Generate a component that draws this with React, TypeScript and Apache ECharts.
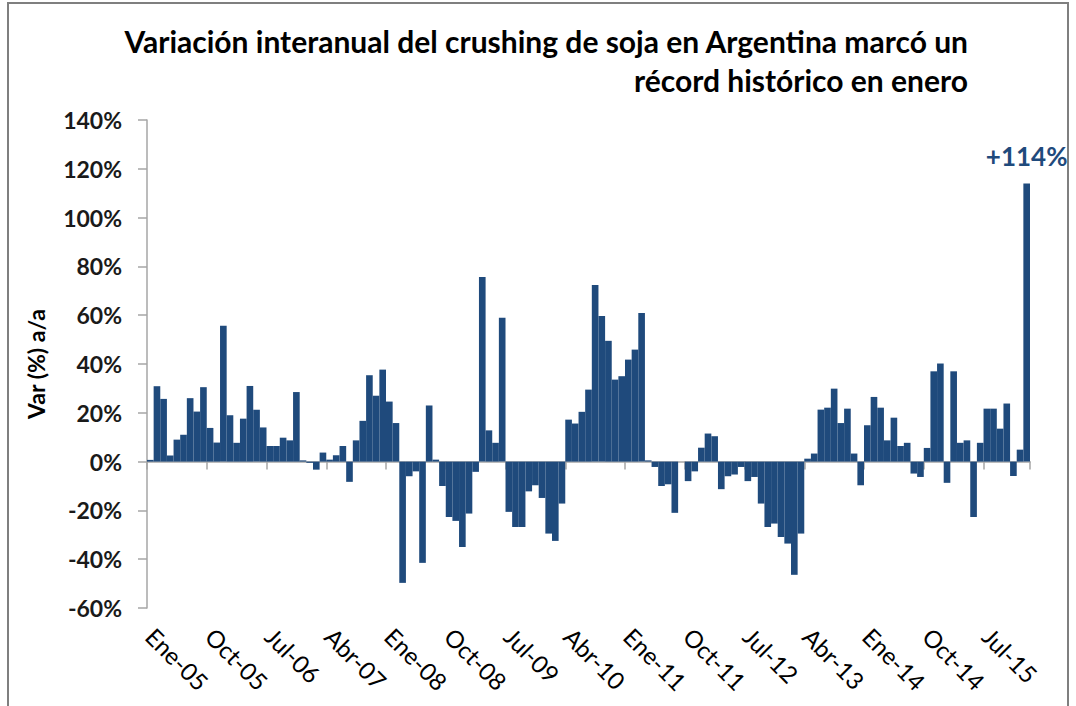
import React, { useEffect, useRef } from "react";
import * as echarts from "echarts";

const MONTHS = ["Ene", "Feb", "Mar", "Abr", "May", "Jun", "Jul", "Ago", "Sep", "Oct", "Nov", "Dic"];
const YEARS = ["05", "06", "07", "08", "09", "10", "11", "12", "13", "14", "15", "16"];

// Year-on-year variation of soybean crushing in Argentina (%), Ene-05 .. Ene-16
const VALUES_2005 = [0.7, 30.9, 25.7, 2.5, 9, 11, 26, 20.5, 30.5, 13.8, 7.8, 55.7];
const VALUES_2006 = [19, 7.7, 17.6, 31, 21.3, 14, 6.4, 6.4, 9.8, 8.7, 28.5, 0.5];
const VALUES_2007 = [-0.5, -3.3, 3.7, 0.8, 2.6, 6.4, -8.3, 8.7, 16.7, 35.4, 27, 37.7];
const VALUES_2008 = [24.6, 15.8, -49.7, -6, -4, -41.5, 23, 0.8, -10, -22.7, -24.3, -35];
const VALUES_2009 = [-21.3, -4.2, 75.7, 12.8, 7.7, 59, -20.6, -26.8, -26.8, -12.2, -9.7, -14.9];
const VALUES_2010 = [-29.5, -32.5, -17.2, 17.2, 15.6, 20.4, 29.5, 72.4, 59.7, 49.5, 33.6, 35];
const VALUES_2011 = [41.8, 45.9, 60.9, 0.5, -2.2, -10, -9.3, -21, 0, -8, -4, 5.7];
const VALUES_2012 = [11.5, 10.4, -11.3, -6, -5.3, -2.2, -8, -6.3, -17.2, -26.8, -25.4, -30.9];
const VALUES_2013 = [-33.6, -46.4, -29.5, 1.2, 3.3, 21.3, 22.1, 29.9, 15.8, 21.7, 3.3, -9.7];
const VALUES_2014 = [14.9, 26.5, 22.1, 8.7, 18, 6.4, 7.7, -4.9, -6.3, 5.6, 37, 40.2];
const VALUES_2015 = [-8.7, 37, 7.7, 8.7, -22.7, 7.7, 21.7, 21.7, 13.5, 23.8, -5.9, 4.9];
const VALUES_2016 = [114];

const Y_MIN = -60;
const Y_MAX = 140;
const Y_STEP = 20;

const TITLE_LINE_1 = "Variación interanual del crushing de soja en Argentina marcó un";
const TITLE_LINE_2 = "récord histórico en enero";
const Y_TITLE = "Var (%) a/a";
const ANNOTATION = "+114%";

const BAR_COLOR = "#1F4A7C";

export default function App() {
  const ref = useRef<HTMLDivElement>(null);

  useEffect(() => {
    if (!ref.current) return;
    const chart = echarts.init(ref.current, undefined, { renderer: "svg" });

    const values = [
      ...VALUES_2005, ...VALUES_2006, ...VALUES_2007, ...VALUES_2008,
      ...VALUES_2009, ...VALUES_2010, ...VALUES_2011, ...VALUES_2012,
      ...VALUES_2013, ...VALUES_2014, ...VALUES_2015, ...VALUES_2016,
    ];
    const categories: string[] = [];
    for (const y of YEARS) for (const m of MONTHS) categories.push(`${m}-${y}`);
    categories.length = values.length;

    const lastIdx = values.length - 1;

    chart.setOption({
      animation: false,
      backgroundColor: "#ffffff",
      textStyle: { fontFamily: "Lato" },
      grid: { left: 147, right: 46, top: 120, bottom: 98, containLabel: false },
      xAxis: [
        {
          type: "category",
          data: categories,
          boundaryGap: true,
          axisLine: { show: true, onZero: true, lineStyle: { color: "#A6A6A6", width: 1.5 } },
          axisTick: { show: true, interval: 8, length: 8, inside: false, lineStyle: { color: "#A6A6A6", width: 1.5 } },
          axisLabel: { show: false },
          splitLine: { show: false },
        },
        {
          type: "category",
          data: categories,
          position: "bottom",
          boundaryGap: true,
          axisLine: { show: false, onZero: false },
          axisTick: { show: false },
          axisLabel: {
            show: true,
            interval: 8,
            rotate: -45,
            margin: 24,
            fontSize: 24,
            fontFamily: "Lato",
            color: "#000000",
          },
          splitLine: { show: false },
        },
      ],
      yAxis: {
        type: "value",
        min: Y_MIN,
        max: Y_MAX,
        interval: Y_STEP,
        axisLine: { show: true, lineStyle: { color: "#A6A6A6", width: 1.5 } },
        axisTick: { show: true, length: 9, lineStyle: { color: "#A6A6A6", width: 1.5 } },
        splitLine: { show: false },
        axisLabel: {
          formatter: (v: number) => `${v}%`,
          fontSize: 23,
          fontWeight: "bold",
          fontFamily: "Lato",
          color: "#1a1a1a",
          margin: 25,
        },
        name: Y_TITLE,
        nameLocation: "middle",
        nameGap: 100,
        nameTextStyle: { fontSize: 23, fontWeight: "bold", fontFamily: "Lato", color: "#000000" },
      },
      series: [
        {
          type: "bar",
          xAxisIndex: 0,
          data: values,
          barCategoryGap: "0%",
          itemStyle: { color: BAR_COLOR },
          markPoint: {
            symbol: "rect",
            symbolSize: 1,
            itemStyle: { color: "transparent" },
            label: {
              show: true,
              formatter: ANNOTATION,
              position: "top",
              distance: 14,
              fontSize: 26,
              fontWeight: "bold",
              fontFamily: "Lato",
              color: BAR_COLOR,
            },
            data: [{ coord: [lastIdx, values[lastIdx]] }],
          },
        },
      ],
      graphic: [
        {
          type: "rect",
          shape: { x: 8, y: 3, width: 1060, height: 730 },
          style: { fill: "none", stroke: "#7F7F7F", lineWidth: 2 },
          silent: true,
        },
        {
          type: "text",
          x: 968,
          y: 41,
          style: {
            text: TITLE_LINE_1,
            font: "bold 30px Lato",
            fill: "#000000",
            textAlign: "right",
            textVerticalAlign: "middle",
          },
        },
        {
          type: "text",
          x: 968,
          y: 80,
          style: {
            text: TITLE_LINE_2,
            font: "bold 30px Lato",
            fill: "#000000",
            textAlign: "right",
            textVerticalAlign: "middle",
          },
        },
      ],
    });

    return () => chart.dispose();
  }, []);

  return <div ref={ref} style={{ width: 1076, height: 706, position: "absolute", left: 0, top: 0 }} />;
}
